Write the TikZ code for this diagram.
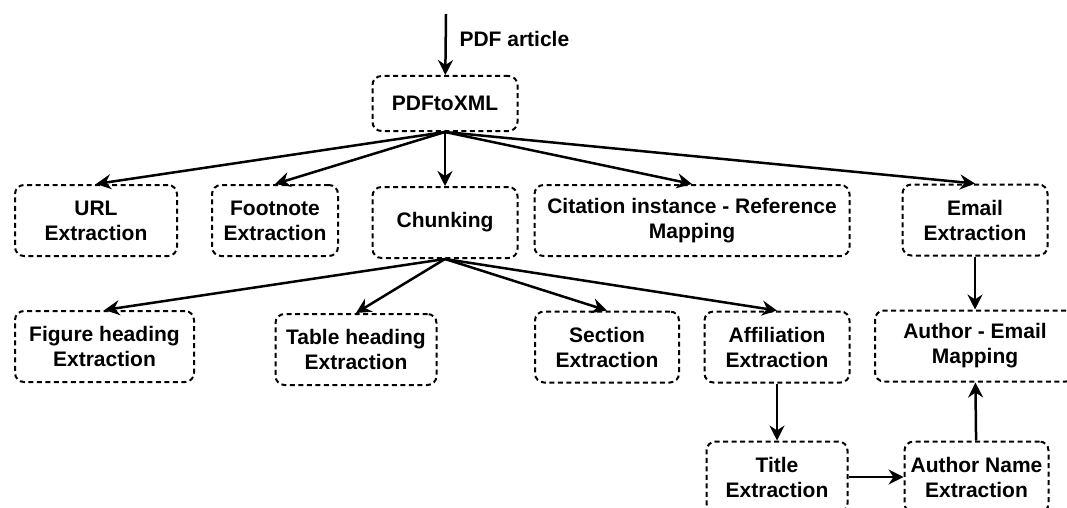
\documentclass[tikz,border=0pt]{standalone}
\usepackage{fontspec}
\setmainfont{Liberation Sans}
\usetikzlibrary{arrows.meta,positioning}
\tikzstyle{block} = [rectangle, draw, line width=2pt, dash pattern=on 5pt off 3.5pt,
    rounded corners=9pt, align=center, inner sep=2pt, minimum height=71pt,
    font=\fontsize{21}{25}\selectfont\bfseries]
\tikzstyle{lbl} = [anchor=west, font=\fontsize{21}{25}\selectfont\bfseries]
\tikzstyle{line} = [draw, line width=2.5pt, -{Stealth[length=15pt,width=15pt,inset=5pt]}]

\begin{document}
\begin{tikzpicture}[x=1pt,y=-1pt]
        \useasboundingbox (0,0) rectangle (1067,508);
        % Place nodes
        \coordinate (src) at (446,14);
        \node [lbl] (art) at (456,39) {PDF article};
        \node [block, minimum width=145pt, minimum height=55pt] (XML) at (445,103.5) {PDFtoXML};
        \node [block, minimum width=162pt] (URL) at (96,220.5) {URL\\Extraction};
        \node [block, minimum width=126pt] (FN) at (275,220.5) {Footnote\\Extraction};
        \node [block, minimum width=145pt] (CHK) [below =54pt of XML] {Chunking};
        \node [block, minimum width=315pt] (CIT) at (692,220.5) {Citation instance - Reference\\Mapping};
        \node [block, minimum width=145pt] (EML) at (975,220) {Email\\Extraction};
        \node [block, minimum width=179pt] (FIG) at (104.5,346.5) {Figure heading\\Extraction};
        \node [block, minimum width=161pt] (TAB) at (356,349.5) {Table heading\\Extraction};
        \node [block, minimum width=144pt] (SEC) at (607,347) {Section\\Extraction};
        \node [block, minimum width=145pt] (AFF) at (777,347) {Affiliation\\Extraction};
        \node [block, minimum width=200pt] (AEM) at (975,346) {Author - Email\\Mapping};
        \node [block, minimum width=141pt] (TTL) [below =57pt of AFF] {Title\\Extraction};
        \node [block, minimum width=144pt] (ANM) [right =55pt of TTL] {Author Name\\Extraction};
        % Draw edges
        \path [line] (src) -- (XML);
        \foreach \n in {URL,FN,CHK,CIT,EML}
            \path [line] (XML.south) -- (\n.north);
        \foreach \n in {FIG,TAB,SEC,AFF}
            \path [line] (CHK.south) -- (\n.north);
        \path [line] (EML) -- (AEM);
        \path [line] (AFF) -- (TTL);
        \path [line] (TTL) -- (ANM);
        \path [line] (ANM) -- (AEM);
    \end{tikzpicture}
\end{document}
